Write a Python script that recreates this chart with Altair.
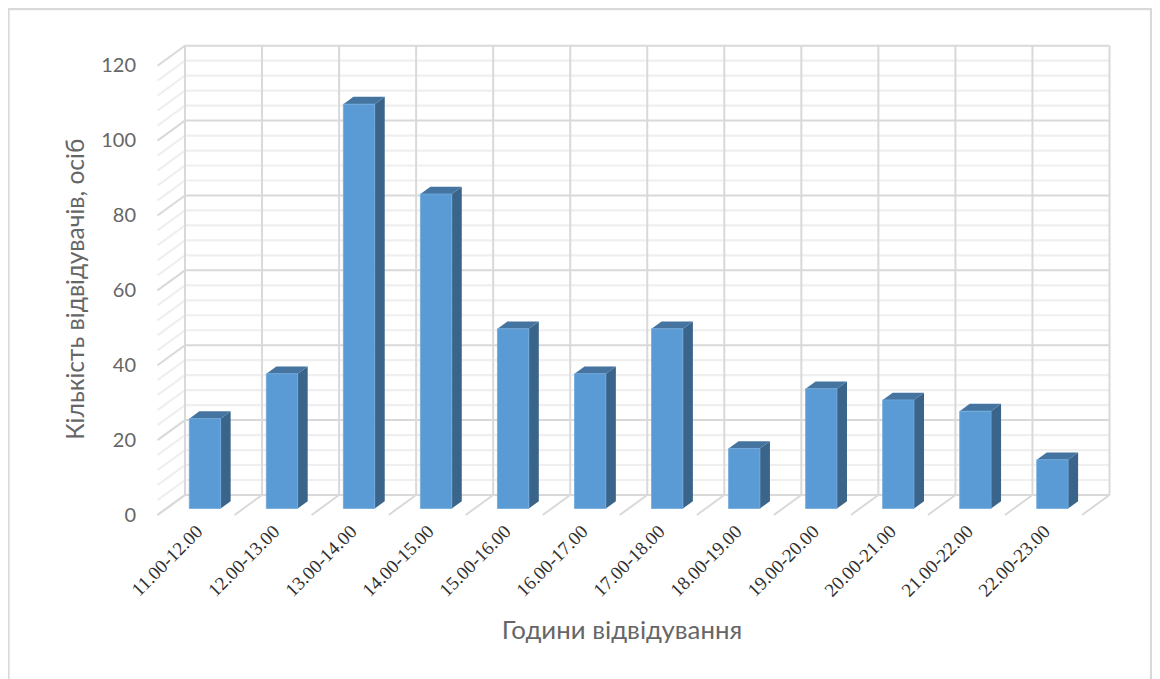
import altair as alt
import pandas as pd

categories = ["11.00-12.00","12.00-13.00","13.00-14.00","14.00-15.00","15.00-16.00","16.00-17.00",
              "17.00-18.00","18.00-19.00","19.00-20.00","20.00-21.00","21.00-22.00","22.00-23.00"]
values = [24, 36, 108, 84, 48, 36, 48, 16, 32, 29, 26, 13]
major_ticks = [0, 20, 40, 60, 80, 100, 120]
minor_ticks = [v for v in range(0, 121, 4) if v % 20]

# 3D projection of the box, in data units
WALL_DX = 0.357      # category units
WALL_DY = 5.35       # value units
BAR_W = 0.407
BAR_GAP = (1 - BAR_W) / 2
FRONT = 0.325        # depth of the bars' front face
SIDE = 0.364         # depth of the bars
n = len(categories)

FONT = "Lato"
TXT = "#666666"
label_list = "[" + ",".join(f"'{c}'" for c in categories) + "]"

x_scale = alt.Scale(domain=[0, n + WALL_DX], nice=False, zero=False)
y_scale = alt.Scale(domain=[0, 120 + WALL_DY], nice=False, zero=False)

x_axis = alt.Axis(
    values=[i + 0.5 for i in range(n)],
    labelExpr=label_list + "[round(datum.value - 0.5)]",
    labelAngle=315, labelAlign="right", labelBaseline="middle",
    labelFont="'Liberation Serif', 'Times New Roman', serif", labelFontSize=19, labelColor="#303030",
    labelPadding=13, labelOffset=3, labelOverlap=False, labelFlush=False,
    domain=False, ticks=False, grid=False,
    title="Години відвідування", titleFont=FONT, titleFontSize=25.8, titleFontWeight="normal",
    titleColor=TXT, titleX=464, titleY=115, titleBaseline="middle")
y_axis = alt.Axis(
    values=major_ticks,
    labelFont=FONT, labelFontSize=20, labelColor=TXT, labelPadding=22,
    domain=False, ticks=False, grid=False,
    title="Кількість відвідувачів, осіб", titleFont=FONT, titleFontSize=24.6, titleFontWeight="normal",
    titleColor=TXT, titleX=-81, titleY=243, titleBaseline="middle")

grid = []
gid = 0
def seg(kind, pts):
    global gid
    gid += 1
    for (a, b) in pts:
        grid.append({"x": a, "y": b, "id": gid, "kind": kind})

for v in minor_ticks:
    seg("minor", [(0, v), (WALL_DX, v + WALL_DY), (n + WALL_DX, v + WALL_DY)])
for v in major_ticks:
    seg("major", [(0, v), (WALL_DX, v + WALL_DY), (n + WALL_DX, v + WALL_DY)])
for i in range(n + 1):
    seg("major", [(i + WALL_DX, WALL_DY), (i + WALL_DX, 120 + WALL_DY)])
    seg("major", [(i, 0), (i + WALL_DX, WALL_DY)])
grid_df = pd.DataFrame(grid)

def grid_layer(kind, color, w):
    return alt.Chart(grid_df[grid_df.kind == kind]).mark_line(color=color, strokeWidth=w).encode(
        x=alt.X("x:Q", scale=x_scale, axis=x_axis),
        y=alt.Y("y:Q", scale=y_scale, axis=y_axis),
        detail="id:N")

rows_front, rows_side, rows_top = [], [], []
for i, v in enumerate(values):
    xl = i + BAR_GAP + FRONT * WALL_DX
    xr = xl + BAR_W
    b = FRONT * WALL_DY
    sx = SIDE * WALL_DX
    sy = SIDE * WALL_DY
    rows_front.append({"x": xl, "x2": xr, "y": b, "y2": b + v})
    rows_side += [{"x": xr, "y": b + v, "y2": b, "id": i},
                  {"x": xr + sx, "y": b + v + sy, "y2": b + sy, "id": i}]
    rows_top += [{"x": xl, "y": b + v, "y2": b + v, "id": i},
                 {"x": xl + sx, "y": b + v + sy, "y2": b + v, "id": i},
                 {"x": xr, "y": b + v + sy, "y2": b + v, "id": i},
                 {"x": xr + sx, "y": b + v + sy, "y2": b + v + sy, "id": i}]

def area_layer(rows, color):
    return alt.Chart(pd.DataFrame(rows)).mark_area(color=color, opacity=1).encode(
        x=alt.X("x:Q", scale=x_scale, axis=x_axis),
        y=alt.Y("y:Q", scale=y_scale, axis=y_axis),
        y2="y2:Q", detail="id:N")

front = alt.Chart(pd.DataFrame(rows_front)).mark_rect(color="#5B9BD5", stroke="#6FA8DC", strokeWidth=0.8).encode(
    x=alt.X("x:Q", scale=x_scale, axis=x_axis),
    x2="x2:Q",
    y=alt.Y("y:Q", scale=y_scale, axis=y_axis),
    y2="y2:Q")

frame_df = pd.DataFrame({"a": [0]})
FW, FC = 2.2, "#D9D9D9"
frame_top = alt.Chart(frame_df).mark_rule(color=FC, strokeWidth=FW).encode(
    x=alt.value(-149.5), x2=alt.value(994.5), y=alt.value(-36.5))
frame_left = alt.Chart(frame_df).mark_rule(color=FC, strokeWidth=FW).encode(
    x=alt.value(-149), y=alt.value(-37), y2=alt.value(633.3))
frame_right = alt.Chart(frame_df).mark_rule(color=FC, strokeWidth=FW).encode(
    x=alt.value(993.5), y=alt.value(-37), y2=alt.value(633.3))

chart = alt.layer(
    grid_layer("minor", "#EFEFEF", 2.2),
    grid_layer("major", "#D9D9D9", 2),
    area_layer(rows_side, "#3A6489"),
    area_layer(rows_top, "#44749F"),
    front,
    frame_top, frame_left, frame_right,
).properties(
    width=952, height=469.3,
    padding={"left": 149.5, "top": 37.7, "right": 42.5, "bottom": 164},
    autosize=alt.AutoSizeParams(type="none"),
    background="white",
).configure_view(stroke=None)

chart.save("out.html", embed_options={"renderer": "svg", "actions": False})
